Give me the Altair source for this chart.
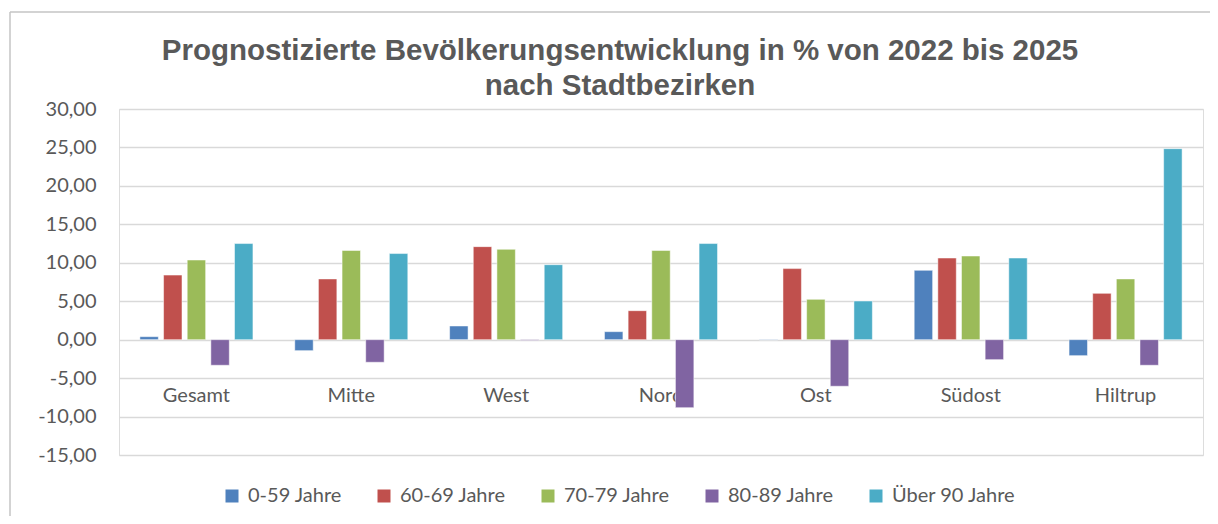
import altair as alt
import pandas as pd

categories = ["Gesamt", "Mitte", "West", "Nord", "Ost", "Südost", "Hiltrup"]
groups = ["0-59 Jahre", "60-69 Jahre", "70-79 Jahre", "80-89 Jahre", "Über 90 Jahre"]
colors = ["#4F81BD", "#C0504D", "#9BBB59", "#8064A2", "#4BACC6"]

v_0_59 = [0.39, -1.43, 1.78, 1.04, -0.05, 9.02, -2.08]
v_60_69 = [8.40, 7.90, 12.10, 3.77, 9.24, 10.62, 6.03]
v_70_79 = [10.36, 11.60, 11.75, 11.60, 5.25, 10.88, 7.90]
v_80_89 = [-3.33, -2.94, -0.10, -8.84, -6.06, -2.60, -3.33]
v_90 = [12.50, 11.20, 9.75, 12.50, 5.03, 10.62, 24.84]

series = [v_0_59, v_60_69, v_70_79, v_80_89, v_90]
rows = []
for g, vals in zip(groups, series):
    for c, v in zip(categories, vals):
        rows.append({"Bezirk": c, "Gruppe": g, "Wert": v})
df = pd.DataFrame(rows)

title_lines = ["Prognostizierte Bevölkerungsentwicklung in % von 2022 bis 2025",
               "nach Stadtbezirken"]

W, H = 1084, 346
PAD_L, PAD_T = 111, 101

bars = alt.Chart(df).mark_bar(stroke="#ffffff", strokeWidth=1, strokeOpacity=0.5).encode(
    x=alt.X("Bezirk:N", sort=categories, title=None,
            scale=alt.Scale(paddingInner=0.27, paddingOuter=0.135),
            axis=alt.Axis(orient="bottom", domain=False, ticks=False, grid=False,
                          labelAngle=0, labelFont="Lato", labelFontSize=20,
                          labelColor="#595959", labelPadding=0, labelBaseline="middle",
                          offset=-60)),
    xOffset=alt.XOffset("Gruppe:N", sort=groups,
                        scale=alt.Scale(paddingInner=0.22, paddingOuter=0)),
    y=alt.Y("Wert:Q", title=None,
            scale=alt.Scale(domain=[-15, 30], nice=False, zero=False),
            axis=alt.Axis(values=list(range(-15, 31, 5)), domain=False, ticks=False,
                          grid=True, gridColor="#D9D9D9", gridWidth=1.5,
                          labelFont="Lato", labelFontSize=20, labelColor="#595959",
                          labelPadding=23,
                          labelExpr="replace(replace(format(datum.value, '.2f'), '.', ','), '−', '-')")),
    color=alt.Color("Gruppe:N", sort=groups,
                    scale=alt.Scale(domain=groups, range=colors),
                    legend=alt.Legend(title=None, orient="none", legendX=103, legendY=377,
                                      direction="horizontal", columns=5,
                                      symbolType="square", symbolSize=169,
                                      symbolStrokeWidth=0, labelFont="Lato",
                                      labelFontSize=20, labelColor="#595959",
                                      labelOffset=6, columnPadding=32, padding=0)),
)

frame_df = pd.DataFrame({"k": [0]})
top_line = alt.Chart(frame_df).mark_rule(color="#C4C4C4", strokeWidth=1.5).encode(
    x=alt.value(-PAD_L + 2), x2=alt.value(W + 20), y=alt.value(-97))
left_line = alt.Chart(frame_df).mark_rule(color="#C4C4C4", strokeWidth=1.5).encode(
    x=alt.value(-PAD_L + 2), y=alt.value(-97), y2=alt.value(H + 70))

chart = alt.layer(bars, top_line, left_line).properties(
    width=W, height=H,
    title=alt.TitleParams(text=title_lines, font="Liberation Sans", fontWeight="bold",
                          fontSize=29.5, color="#595959", anchor="middle", dx=-41,
                          lineHeight=35, offset=10, dy=100),
    autosize=alt.AutoSizeParams(type="none"),
    padding={"left": PAD_L, "top": PAD_T, "right": 7, "bottom": 61},
).configure_view(stroke=None).configure(background="white")

chart.save("out.html", embed_options={"renderer": "svg", "actions": False})
